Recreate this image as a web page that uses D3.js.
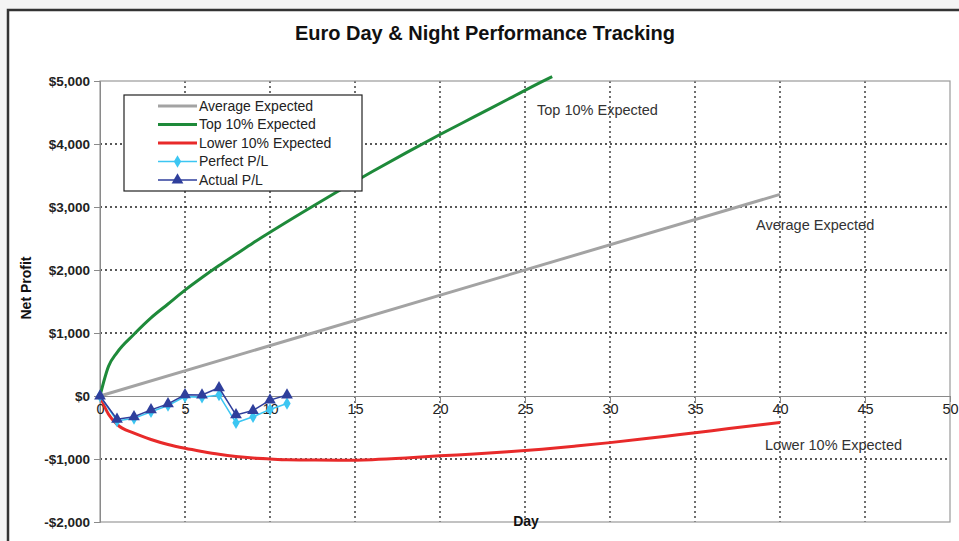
<!DOCTYPE html>
<html><head><meta charset="utf-8">
<script src="https://cdn.jsdelivr.net/npm/d3@7"></script>
<style>
html,body{margin:0;padding:0;background:#f4f4f4;}
svg{display:block;font-family:"Liberation Sans",Arial,sans-serif;}
</style></head>
<body>
<svg id="chart" width="959" height="541"></svg>
<script>
// ---- data ----
const xTicks = [0,5,10,15,20,25,30,35,40,45,50];
const yTicks = [-2000,-1000,0,1000,2000,3000,4000,5000];
const avgDays = [0,40];
const avgValues = [0,3200];
const topDays = [0,0.5,1,2,3,4,5,6,7,8,9,10,12,14,16,18,20,22,24,26,26.6];
const topValues = [0,470,690,980,1240,1460,1680,1880,2070,2250,2430,2600,2930,3250,3560,3860,4150,4430,4710,4990,5070];
const lowDays = [0,0.5,1,2,3,4,5,6,7,8,9,10,11,12,14,16,18,20,22,24,26,28,30,32,34,36,38,40];
const lowValues = [0,-290,-450,-590,-690,-770,-830,-880,-925,-960,-985,-1000,-1012,-1015,-1018,-1010,-985,-950,-920,-885,-845,-795,-740,-680,-615,-550,-485,-420];
const plDays = [0,1,2,3,4,5,6,7,8,9,10,11];
const perfectPL = [0,-395,-355,-250,-150,-10,-20,15,-425,-330,-215,-120];
const actualPL = [0,-370,-330,-220,-125,20,15,130,-300,-230,-65,15];
const seriesNames = ["Average Expected","Top 10% Expected","Lower 10% Expected","Perfect P/L","Actual P/L"];
const colors = {avg:"#a3a3a3", top:"#1e8a3a", low:"#e82a2a", perfect:"#3cc6f2", actual:"#2f3f9c"};

const svg = d3.select("#chart");
// outer frame
svg.append("rect").attr("x",8).attr("y",10).attr("width",1000).attr("height",600)
  .attr("fill","#fff").attr("stroke","#333").attr("stroke-width",2.5);

const L=100,R=950,T=81,B=522;
const x = d3.scaleLinear().domain([0,50]).range([L,R]);
const y = d3.scaleLinear().domain([-2000,5000]).range([B,T]);

// gridlines
const g = svg.append("g");
g.selectAll(".vg").data(xTicks.filter(d=>d>0&&d<50)).join("line")
  .attr("x1",d=>x(d)).attr("x2",d=>x(d)).attr("y1",T).attr("y2",B)
  .attr("stroke","#222").attr("stroke-width",1.3).attr("stroke-dasharray","2,3");
g.selectAll(".hg").data(yTicks.filter(d=>d>-2000&&d<5000&&d!==0)).join("line")
  .attr("x1",L).attr("x2",R).attr("y1",d=>y(d)).attr("y2",d=>y(d))
  .attr("stroke","#222").attr("stroke-width",1.3).attr("stroke-dasharray","2,3");

// plot border
svg.append("rect").attr("x",L).attr("y",T).attr("width",R-L).attr("height",B-T)
  .attr("fill","none").attr("stroke","#9a9a9a").attr("stroke-width",1.2);

// y axis
const yAxis = d3.axisLeft(y).tickValues(yTicks).tickSize(6)
  .tickFormat(d=> (d<0?"-":"")+"$"+d3.format(",")(Math.abs(d)));
const ya = svg.append("g").attr("transform",`translate(${L},0)`).call(yAxis);
ya.select(".domain").attr("stroke","#8a8a8a");
ya.selectAll(".tick line").attr("stroke","#8a8a8a");
ya.selectAll("text").attr("font-size",13.5).attr("font-weight","bold").attr("fill","#222")
  .attr("font-family","'Liberation Sans',Arial,sans-serif").attr("x",-10);

// x axis at y=0
const xAxis = d3.axisBottom(x).tickValues(xTicks).tickSize(6).tickFormat(d3.format("d"));
const xa = svg.append("g").attr("transform",`translate(0,${y(0)})`).call(xAxis);
xa.select(".domain").attr("stroke","#8a8a8a");
xa.selectAll(".tick line").attr("stroke","#8a8a8a");
xa.selectAll("text").attr("font-size",14.5).attr("fill","#222")
  .attr("font-family","'Liberation Sans Narrow','Liberation Sans',Arial,sans-serif").attr("y",8);

// lines
const line = d3.line().x(d=>x(d[0])).y(d=>y(d[1]));
const smooth = d3.line().x(d=>x(d[0])).y(d=>y(d[1])).curve(d3.curveMonotoneX);
const zip = (a,b)=>a.map((v,i)=>[v,b[i]]);
svg.append("path").attr("d",line(zip(avgDays,avgValues))).attr("fill","none").attr("stroke",colors.avg).attr("stroke-width",3);
svg.append("path").attr("d",smooth(zip(topDays,topValues))).attr("fill","none").attr("stroke",colors.top).attr("stroke-width",3);
svg.append("path").attr("d",smooth(zip(lowDays,lowValues))).attr("fill","none").attr("stroke",colors.low).attr("stroke-width",3);

const diamond = d3.symbol().type(d3.symbolDiamond).size(46);
const tri = d3.symbol().type(d3.symbolTriangle).size(60);
const pData = zip(plDays,perfectPL), aData = zip(plDays,actualPL);
svg.append("path").attr("d",line(pData)).attr("fill","none").attr("stroke",colors.perfect).attr("stroke-width",1.5);
svg.selectAll(".pm").data(pData).join("path").attr("d",diamond)
  .attr("transform",d=>`translate(${x(d[0])},${y(d[1])})`).attr("fill",colors.perfect);
svg.append("path").attr("d",line(aData)).attr("fill","none").attr("stroke",colors.actual).attr("stroke-width",1.5);
svg.selectAll(".am").data(aData).join("path").attr("d",tri)
  .attr("transform",d=>`translate(${x(d[0])},${y(d[1])})`).attr("fill",colors.actual);

// annotations
const ann = [["Top 10% Expected",537,110],["Average Expected",756,225],["Lower 10% Expected",765,445]];
svg.selectAll(".ann").data(ann).join("text").attr("x",d=>d[1]).attr("y",d=>d[2])
  .attr("dy","0.35em").attr("font-size",14.5).attr("fill","#333").text(d=>d[0]);

// title and axis labels
svg.append("text").attr("x",485).attr("y",33).attr("dy","0.35em").attr("text-anchor","middle")
  .attr("font-size",20).attr("font-weight","bold").attr("fill","#111").text("Euro Day & Night Performance Tracking");
svg.append("text").attr("transform","translate(26,288) rotate(-90)").attr("dy","0.35em").attr("text-anchor","middle")
  .attr("font-size",14).attr("font-weight","bold").attr("fill","#111").text("Net Profit");
svg.append("text").attr("x",526).attr("y",521).attr("dy","0.35em").attr("text-anchor","middle")
  .attr("font-size",14).attr("font-weight","bold").attr("fill","#111").text("Day");

// legend
const lg = svg.append("g");
lg.append("rect").attr("x",124).attr("y",95).attr("width",238).attr("height",96)
  .attr("fill","#fff").attr("stroke","#222").attr("stroke-width",1.2);
const legItems = [
  {name:seriesNames[0],c:colors.avg,w:3,m:null},
  {name:seriesNames[1],c:colors.top,w:3,m:null},
  {name:seriesNames[2],c:colors.low,w:3,m:null},
  {name:seriesNames[3],c:colors.perfect,w:1.5,m:diamond},
  {name:seriesNames[4],c:colors.actual,w:1.5,m:tri}];
const rowY = [106,124.5,143,161.5,180];
legItems.forEach((it,i)=>{
  const yy=rowY[i];
  lg.append("line").attr("x1",158).attr("x2",197).attr("y1",yy).attr("y2",yy).attr("stroke",it.c).attr("stroke-width",it.w);
  if(it.m) lg.append("path").attr("d",it.m).attr("transform",`translate(177.5,${yy})`).attr("fill",it.c);
  lg.append("text").attr("x",199).attr("y",yy).attr("dy","0.35em").attr("font-size",14).attr("fill","#222").text(it.name);
});
</script>
</body></html>
